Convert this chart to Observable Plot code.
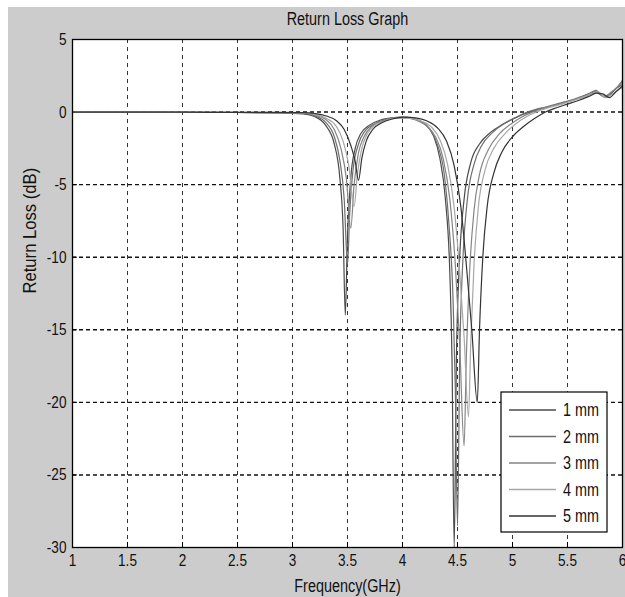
<!DOCTYPE html>
<html>
<head>
<meta charset="utf-8">
<script src="https://cdn.jsdelivr.net/npm/d3@7"></script>
<script src="https://cdn.jsdelivr.net/npm/@observablehq/plot@0.6"></script>
<style>
  html, body { margin: 0; padding: 0; background: #ffffff; }
  #fig { position: absolute; left: 8px; top: 7px; width: 617px; height: 590px; background: #cccccc; }
  #fig svg { display: block; }
</style>
</head>
<body>
<div id="fig"></div>
<script>
// ---- Data ----
const seriesNames = ["1 mm", "2 mm", "3 mm", "4 mm", "5 mm"];
const seriesColors = ["#4a4a4a", "#6e6e6e", "#858585", "#a8a8a8", "#333333"];

const freq1 = [1.0, 1.5, 2.0, 2.5, 2.9, 3.1, 3.2, 3.3, 3.38, 3.43, 3.46, 3.48, 3.50, 3.53, 3.57, 3.62, 3.7, 3.8, 3.9, 4.0, 4.1, 4.2, 4.28, 4.34, 4.39, 4.43, 4.45, 4.47, 4.49, 4.52, 4.56, 4.62, 4.7, 4.8, 4.9, 5.0, 5.1, 5.2, 5.3, 5.4, 5.5, 5.6, 5.7, 5.75, 5.8, 5.85, 5.9, 5.95, 6.0];
const rl1   = [0, 0, -0.02, -0.03, -0.05, -0.12, -0.3, -0.9, -2.2, -4.5, -8, -14, -8.5, -4.5, -2.5, -1.5, -0.9, -0.55, -0.4, -0.35, -0.45, -0.8, -1.6, -3.2, -6, -11, -17, -30, -17, -10, -6, -3.5, -2.2, -1.4, -0.9, -0.5, -0.15, 0.1, 0.3, 0.5, 0.7, 0.95, 1.25, 1.4, 1.2, 1.0, 1.3, 1.7, 2.1];

const freq2 = [1.0, 1.5, 2.0, 2.5, 2.9, 3.1, 3.2, 3.3, 3.38, 3.43, 3.47, 3.50, 3.52, 3.55, 3.6, 3.66, 3.75, 3.85, 3.95, 4.05, 4.15, 4.24, 4.32, 4.38, 4.42, 4.46, 4.48, 4.50, 4.52, 4.55, 4.59, 4.65, 4.72, 4.82, 4.92, 5.02, 5.12, 5.2, 5.3, 5.4, 5.5, 5.6, 5.7, 5.76, 5.82, 5.88, 5.94, 6.0];
const rl2   = [0, 0, -0.02, -0.03, -0.05, -0.1, -0.25, -0.7, -1.7, -3.3, -6, -10.5, -7, -4, -2.2, -1.3, -0.8, -0.5, -0.38, -0.4, -0.6, -1.1, -2.3, -4.3, -7.5, -13, -19, -28.5, -17, -10, -6, -3.6, -2.3, -1.4, -0.8, -0.4, -0.05, 0.15, 0.35, 0.55, 0.75, 1.0, 1.3, 1.5, 1.1, 1.2, 1.6, 1.9];

const freq3 = [1.0, 1.5, 2.0, 2.5, 2.9, 3.1, 3.2, 3.3, 3.38, 3.44, 3.49, 3.53, 3.56, 3.6, 3.65, 3.72, 3.82, 3.92, 4.02, 4.12, 4.22, 4.3, 4.37, 4.43, 4.48, 4.52, 4.56, 4.58, 4.61, 4.65, 4.7, 4.78, 4.88, 4.98, 5.08, 5.18, 5.28, 5.4, 5.5, 5.6, 5.7, 5.77, 5.83, 5.9, 5.95, 6.0];
const rl3   = [0, 0, -0.02, -0.03, -0.04, -0.08, -0.2, -0.5, -1.2, -2.5, -4.6, -8, -5, -2.8, -1.7, -1.0, -0.6, -0.42, -0.4, -0.55, -0.95, -1.7, -3.2, -6, -10.5, -16, -23, -17, -11, -6.8, -4.3, -2.6, -1.5, -0.85, -0.35, 0.0, 0.25, 0.5, 0.7, 0.95, 1.2, 1.35, 1.05, 1.4, 1.7, 2.2];

const freq4 = [1.0, 1.5, 2.0, 2.5, 2.9, 3.1, 3.2, 3.3, 3.4, 3.46, 3.51, 3.56, 3.59, 3.63, 3.68, 3.76, 3.86, 3.96, 4.06, 4.16, 4.26, 4.34, 4.41, 4.47, 4.52, 4.56, 4.6, 4.62, 4.65, 4.69, 4.75, 4.83, 4.93, 5.03, 5.13, 5.23, 5.33, 5.45, 5.55, 5.65, 5.72, 5.78, 5.84, 5.9, 5.96, 6.0];
const rl4   = [0, 0, -0.01, -0.02, -0.03, -0.06, -0.15, -0.4, -1.0, -2.0, -3.6, -6.5, -4.3, -2.5, -1.5, -0.9, -0.55, -0.4, -0.42, -0.6, -1.0, -1.9, -3.6, -6.6, -11, -15.5, -21, -16, -10.5, -6.5, -4, -2.5, -1.5, -0.8, -0.3, 0.05, 0.3, 0.55, 0.8, 1.05, 1.3, 1.4, 1.0, 1.2, 1.5, 1.7];

const freq5 = [1.0, 1.5, 2.0, 2.5, 2.9, 3.1, 3.2, 3.3, 3.4, 3.47, 3.53, 3.57, 3.6, 3.63, 3.67, 3.73, 3.82, 3.92, 4.02, 4.12, 4.22, 4.32, 4.4, 4.47, 4.53, 4.58, 4.63, 4.68, 4.7, 4.73, 4.77, 4.83, 4.9, 5.0, 5.1, 5.2, 5.3, 5.4, 5.5, 5.6, 5.7, 5.76, 5.82, 5.88, 5.94, 6.0];
const rl5   = [0, 0, -0.01, -0.02, -0.02, -0.04, -0.1, -0.25, -0.6, -1.2, -2.3, -3.4, -4.7, -3.2, -2.0, -1.2, -0.7, -0.45, -0.35, -0.4, -0.6, -1.1, -2.0, -3.7, -6.5, -10.5, -15, -20, -15, -10, -6.5, -4.2, -2.8, -1.7, -1.0, -0.45, 0.0, 0.3, 0.55, 0.8, 1.1, 1.3, 1.25, 1.0, 1.4, 1.8];

const xTicks = [1, 1.5, 2, 2.5, 3, 3.5, 4, 4.5, 5, 5.5, 6];
const yTicks = [5, 0, -5, -10, -15, -20, -25, -30];

const titleText = "Return Loss Graph";
const xLabelText = "Frequency(GHz)";
const yLabelText = "Return Loss (dB)";

// ---- Build table ----
const freqs = [freq1, freq2, freq3, freq4, freq5];
const rls = [rl1, rl2, rl3, rl4, rl5];
const data = seriesNames.flatMap((name, i) => freqs[i].map((f, j) => ({series: name, f, rl: rls[i][j]})));

const W = 617, H = 590;
const mL = 64, mR = 3, mT = 32, mB = 50;
const plotH = H - mT - mB;
const font = "'Liberation Sans', Arial, Helvetica, sans-serif";

const chart = Plot.plot({
  width: W, height: H,
  marginLeft: mL, marginRight: mR, marginTop: mT, marginBottom: mB,
  style: {background: "transparent", fontFamily: font, fontSize: "16px", color: "#111"},
  x: {domain: [1, 6]},
  y: {domain: [-30, 5]},
  color: {type: "ordinal", domain: seriesNames, range: seriesColors},
  marks: [
    Plot.frame({fill: "white", stroke: "none"}),
    Plot.ruleX(xTicks.slice(1, -1), {x: d => d, stroke: "#333", strokeWidth: 1, strokeDasharray: "4,4"}),
    Plot.ruleY(yTicks.slice(1, -1), {y: d => d, stroke: "#111", strokeWidth: 1.4, strokeDasharray: "4,3"}),
    Plot.tickX(xTicks, {x: d => d, insetTop: plotH - 5, stroke: "#000"}),
    Plot.tickY(yTicks, {y: d => d, insetRight: (W - mL - mR) - 5, stroke: "#000"}),
    Plot.line(data, {x: "f", y: "rl", z: "series", stroke: "series", strokeWidth: 1.2, curve: "monotone-x", clip: true}),
    Plot.frame({stroke: "#000", strokeWidth: 1.3}),
    Plot.axisX({ticks: xTicks, tickSize: 0, tickPadding: 6, label: null, tickFormat: d => String(d), fontSize: 17, className: "cond"}),
    Plot.axisY({ticks: yTicks, tickSize: 0, tickPadding: 6, label: null, tickFormat: d => String(d), fontSize: 17, className: "cond"}),
    Plot.text([titleText], {text: d => d, frameAnchor: "top", lineAnchor: "middle", dy: -20, fontSize: 18, fill: "#111", className: "cond"}),
    Plot.text([xLabelText], {text: d => d, frameAnchor: "bottom", lineAnchor: "middle", dy: 39, fontSize: 18, fill: "#111", className: "cond"}),
    Plot.text([yLabelText], {text: d => d, frameAnchor: "left", lineAnchor: "middle", rotate: -90, dx: -42, fontSize: 17.5, fill: "#111", className: "cond2"})
  ]
});

document.getElementById("fig").appendChild(chart);

// ---- Legend (inside the axes, bottom right) ----
const svg = d3.select(chart);
const lg = svg.append("g").attr("class", "cond").attr("font-family", font).attr("font-size", 18).attr("text-anchor", "start");
const lx = 493, ly = 385, lw = 106, lh = 140;
lg.append("rect").attr("x", lx).attr("y", ly).attr("width", lw).attr("height", lh)
  .attr("fill", "white").attr("stroke", "#000").attr("stroke-width", 1.2);
seriesNames.forEach((name, i) => {
  const cy = ly + 18 + i * 26.5;
  lg.append("line").attr("x1", lx + 8).attr("x2", lx + 55).attr("y1", cy).attr("y2", cy)
    .attr("stroke", seriesColors[i]).attr("stroke-width", 1.3);
  lg.append("text").attr("x", lx + 62).attr("y", cy).attr("dy", "0.35em").attr("fill", "#111")
    .attr("text-anchor", "start").text(name);
});

// ---- Condensed look of the original (narrow glyphs) ----
function condense(sel, k) {
  sel.selectAll("text").each(function() {
    const len = this.getComputedTextLength();
    if (len > 0) {
      this.setAttribute("textLength", (len * k).toFixed(2));
      this.setAttribute("lengthAdjust", "spacingAndGlyphs");
    }
  });
}
svg.selectAll(".cond").call(s => condense(s, 0.8));
svg.selectAll(".cond2").call(s => condense(s, 0.95));
</script>
</body>
</html>
